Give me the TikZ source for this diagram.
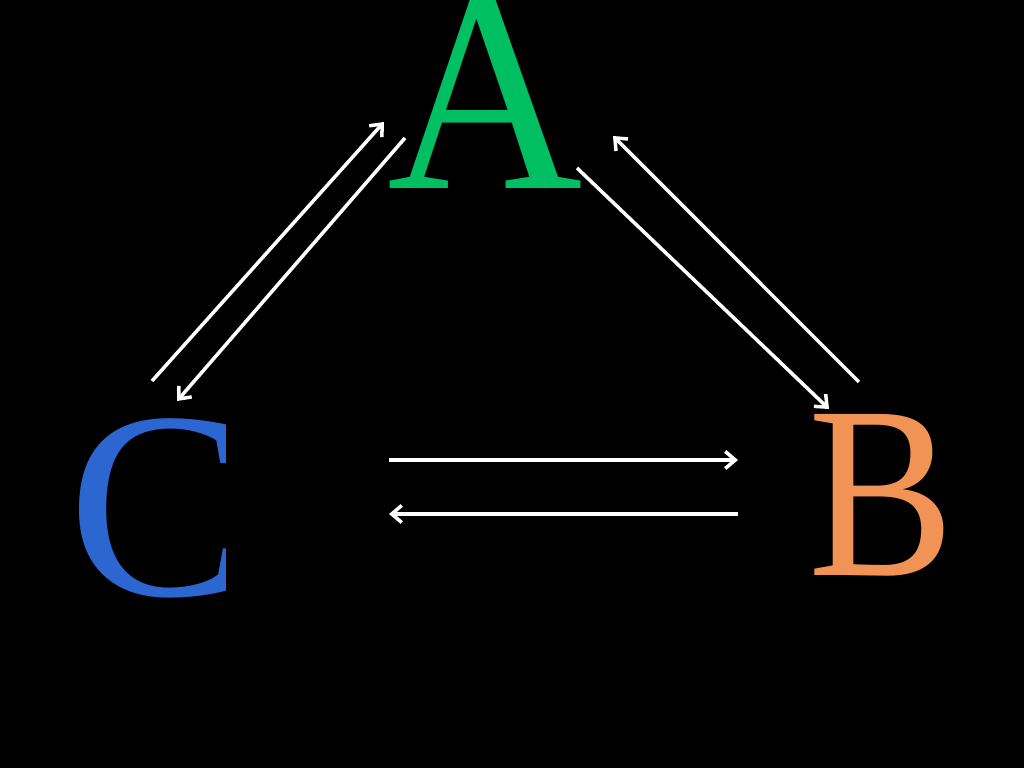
\documentclass[tikz,border=0pt]{standalone}
\usepackage{fontspec}
\setmainfont{Liberation Serif}
\usetikzlibrary{arrows.meta,positioning,calc}
\definecolor{agreen}{RGB}{0,191,99}
\definecolor{borange}{RGB}{242,147,86}
\definecolor{cblue}{RGB}{44,102,209}
\begin{document}
\begin{tikzpicture}
[letter/.style={inner sep=0pt,outer sep=0pt,anchor=base west},
myedge/.style={-{Straight Barb[length=1mm,width=1.7mm]}, white, line width=1pt}]
%%%%%%%%%%
\fill[black] (0,0) rectangle (10.24,7.68);
\useasboundingbox (0,0) rectangle (10.24,7.68);
%% letters
\node (A) [letter,text=agreen,yscale=1.06,font=\fontsize{77}{77}\selectfont] at (3.87,5.79) {A};
\node (B) [letter,text=borange,xscale=0.89,font=\fontsize{70}{70}\selectfont] at (8.08,1.92) {B};
\begin{scope}
\clip (0,0) rectangle (2.25,7.68);
\node (C) [letter,text=cblue,font=\fontsize{76}{76}\selectfont] at (0.69,1.72) {C};
\end{scope}
%% arrow ends
\coordinate (ca1) at (1.52,3.87);
\coordinate (ca2) at (3.84,6.46);
\coordinate (ac1) at (4.05,6.30);
\coordinate (ac2) at (1.77,3.67);
\coordinate (ab1) at (5.77,6.00);
\coordinate (ab2) at (8.29,3.59);
\coordinate (ba1) at (8.59,3.86);
\coordinate (ba2) at (6.13,6.32);
\coordinate (cb1) at (3.89,3.08);
\coordinate (cb2) at (7.38,3.08);
\coordinate (bc1) at (7.38,2.54);
\coordinate (bc2) at (3.89,2.54);
%% edges
\draw[myedge] (ca1) -- (ca2);
\draw[myedge] (ac1) -- (ac2);
\draw[myedge] (ab1) -- (ab2);
\draw[myedge] (ba1) -- (ba2);
\draw[myedge] (cb1) -- (cb2);
\draw[myedge] (bc1) -- (bc2);
\end{tikzpicture}
\end{document}
